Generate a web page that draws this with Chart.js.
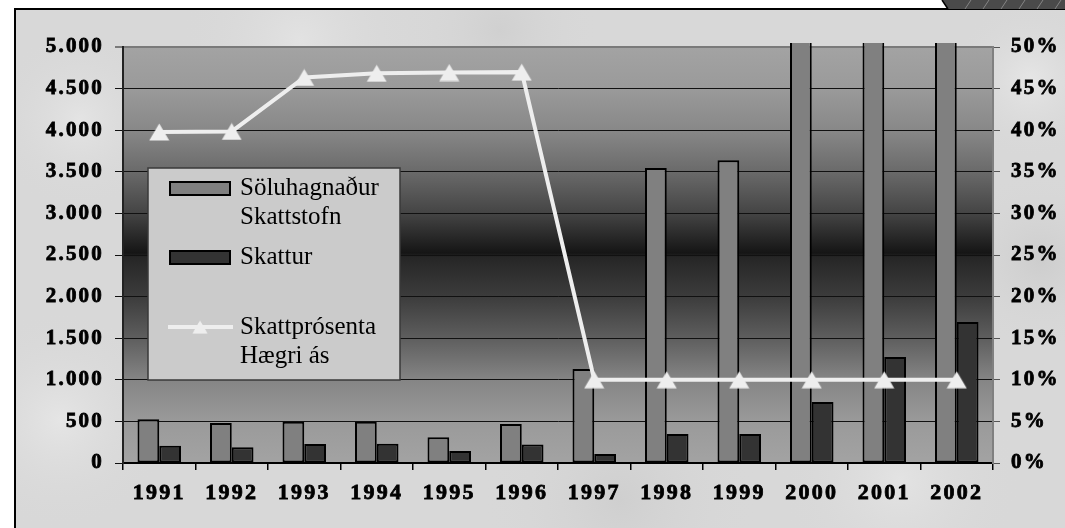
<!DOCTYPE html>
<html>
<head>
<meta charset="utf-8">
<script src="https://cdn.jsdelivr.net/npm/chart.js@4.4.1/dist/chart.umd.min.js"></script>
<style>
  html, body { margin: 0; padding: 0; background: #fff; }
  canvas { display: block; }
</style>
</head>
<body>
<canvas id="myChart" width="1065" height="528"></canvas>
<script>
const years = ['1991','1992','1993','1994','1995','1996','1997','1998','1999','2000','2001','2002'];
const skattstofn = [525, 480, 495, 495, 310, 470, 1130, 3545, 3640, 7330, 12740, 16950];
const skattur = [208, 188, 229, 232, 145, 221, 108, 349, 349, 733, 1274, 1695];
const skattprosenta = [39.79, 39.85, 46.34, 46.84, 46.93, 46.98, 10, 10, 10, 10, 10, 10];
const leftTicks = ['0','500','1.000','1.500','2.000','2.500','3.000','3.500','4.000','4.500','5.000'];
const rightTicks = ['0%','5%','10%','15%','20%','25%','30%','35%','40%','45%','50%'];
const legendLines = [['Söluhagnaður','Skattstofn'], ['Skattur'], ['Skattprósenta','Hægri ás']];

// triangle marker, centred like the original (a bit lower than chart.js' own)
const tri = document.createElement('canvas');
tri.width = 21; tri.height = 18;
(function () {
  const c = tri.getContext('2d');
  c.fillStyle = '#eeeeee';
  c.beginPath();
  c.moveTo(10.5, 0.5); c.lineTo(20.5, 17.5); c.lineTo(0.5, 17.5);
  c.closePath();
  c.fill();
})();

const backdrop = {
  id: 'backdrop',
  beforeDraw(chart) {
    const c = chart.ctx, a = chart.chartArea;
    c.save();
    c.fillStyle = '#fff';
    c.fillRect(0, 0, chart.width, chart.height);
    c.fillStyle = '#d8d8d8';
    c.fillRect(14, 9, chart.width - 14, chart.height - 9);
    // soft mottling of the marble
    const spots = [[80,120,90,'#e4e4e4'],[300,40,120,'#e2e2e2'],[620,500,140,'#cfcfcf'],[900,480,120,'#e3e3e3'],
                   [1040,260,90,'#cdcdcd'],[60,420,110,'#e5e5e5'],[500,30,100,'#d0d0d0'],[1030,80,80,'#e6e6e6']];
    spots.forEach(s => {
      const g = c.createRadialGradient(s[0], s[1], 0, s[0], s[1], s[2]);
      g.addColorStop(0, s[3]); g.addColorStop(1, 'rgba(216,216,216,0)');
      c.fillStyle = g;
      c.fillRect(14, 9, chart.width - 14, chart.height - 9);
    });
    // frame lines
    c.strokeStyle = '#000'; c.lineWidth = 2;
    c.beginPath();
    c.moveTo(15, 528); c.lineTo(15, 9); c.lineTo(1065, 9);
    c.stroke();
    // dark tab top right
    c.fillStyle = '#4a4a4a';
    c.beginPath();
    c.moveTo(942, 0); c.lineTo(1065, 0); c.lineTo(1065, 9); c.lineTo(948, 9);
    c.closePath(); c.fill();
    c.strokeStyle = '#000'; c.lineWidth = 1.5;
    c.beginPath(); c.moveTo(942, 0); c.lineTo(948, 9); c.stroke();
    c.strokeStyle = 'rgba(200,200,200,0.6)'; c.lineWidth = 0.8;
    for (let x = 965; x < 1070; x += 18) {
      c.beginPath(); c.moveTo(x, 9); c.lineTo(x + 6, 0); c.stroke();
    }
    // plot area gradient
    const g = c.createLinearGradient(0, a.top, 0, a.bottom);
    g.addColorStop(0, '#a3a3a3');
    g.addColorStop(0.1, '#9a9a9a');
    g.addColorStop(0.2, '#888888');
    g.addColorStop(0.3, '#6a6a6a');
    g.addColorStop(0.4, '#444444');
    g.addColorStop(0.495, '#151515');
    g.addColorStop(0.505, '#262626');
    g.addColorStop(0.6, '#3c3c3c');
    g.addColorStop(0.7, '#5e5e5e');
    g.addColorStop(0.8, '#858585');
    g.addColorStop(0.9, '#9a9a9a');
    g.addColorStop(1, '#a3a3a3');
    c.fillStyle = g;
    c.fillRect(a.left, a.top, a.right - a.left, a.bottom - a.top);
    c.restore();
    // the original axis numbers are set wide
    c.letterSpacing = '2.2px';
  }
};

const boxLegend = {
  id: 'boxLegend',
  afterDatasetsDraw(chart) {
    const c = chart.ctx;
    const ds = chart.data.datasets;
    c.save();
    c.letterSpacing = '0px';
    c.fillStyle = '#cbcbcb';
    c.fillRect(148, 168, 252, 212);
    c.strokeStyle = '#3a3a3a'; c.lineWidth = 1.5;
    c.strokeRect(148, 168, 252, 212);
    c.font = '25px "Liberation Serif", serif';
    c.fillStyle = '#000';
    c.textBaseline = 'middle';
    const rows = [188, 257, 327];
    ds.forEach((d, i) => {
      const y = rows[i];
      if (d.type === 'line') {
        c.strokeStyle = d.borderColor; c.lineWidth = 4;
        c.beginPath(); c.moveTo(168, y); c.lineTo(233, y); c.stroke();
        c.drawImage(tri, 200 - 8, y - 7, 16, 14);
      } else {
        c.fillStyle = d.backgroundColor;
        c.fillRect(170, y - 6, 60, 13);
        c.strokeStyle = '#000'; c.lineWidth = 2;
        c.strokeRect(170, y - 6, 60, 13);
      }
      c.fillStyle = '#000';
      legendLines[i].forEach((t, k) => c.fillText(t, 240, y + k * 29));
    });
    c.restore();
  }
};

const tickFont = { family: '"Liberation Serif", serif', weight: 'bold', size: 21 };

const ctx = document.getElementById('myChart').getContext('2d');
const chart = new Chart(ctx, {
  data: {
    labels: years,
    datasets: [
      {
        type: 'bar',
        label: legendLines[0].join(' '),
        data: skattstofn,
        backgroundColor: '#808080',
        borderColor: '#000',
        borderWidth: 2,
        borderSkipped: false,
        categoryPercentage: 0.6,
        barPercentage: 1.0,
        clip: { left: 0, top: 4, right: 0, bottom: 0 },
        yAxisID: 'y',
        order: 1
      },
      {
        type: 'bar',
        label: legendLines[1].join(' '),
        data: skattur,
        backgroundColor: '#333333',
        borderColor: '#000',
        borderWidth: 2,
        borderSkipped: false,
        categoryPercentage: 0.6,
        barPercentage: 1.0,
        yAxisID: 'y',
        order: 1
      },
      {
        type: 'line',
        label: legendLines[2].join(' '),
        data: skattprosenta,
        borderColor: '#eeeeee',
        borderWidth: 4,
        tension: 0,
        pointStyle: tri,
        yAxisID: 'y1',
        order: 0
      }
    ]
  },
  options: {
    responsive: false,
    devicePixelRatio: 1,
    animation: false,
    layout: { padding: { left: 0, right: 0, top: 47, bottom: 0 } },
    plugins: {
      legend: { display: false },
      tooltip: { enabled: false }
    },
    scales: {
      x: {
        grid: {
          offset: true,
          drawOnChartArea: false,
          tickLength: 7,
          color: '#000',
          lineWidth: 1.5
        },
        border: { color: '#000', width: 2 },
        ticks: {
          color: '#000', font: { ...tickFont, size: 22 }, padding: 10, maxRotation: 0,
          textStrokeColor: '#000', textStrokeWidth: 0.8
        },
        afterFit(s) { s.height = 65; }
      },
      y: {
        position: 'left',
        min: 0,
        max: 5000,
        ticks: {
          stepSize: 500,
          color: '#000',
          font: tickFont,
          padding: 11,
          textStrokeColor: '#000',
          textStrokeWidth: 0.8,
          callback: (v, i) => leftTicks[i]
        },
        grid: {
          color: c => (c.tick && c.tick.value === 5000) ? '#7a7a7a' : '#111',
          lineWidth: c => (c.tick && c.tick.value === 5000) ? 2 : 1,
          tickLength: 8
        },
        border: { color: '#222', width: 2 },
        afterFit(s) { s.width = 123; }
      },
      y1: {
        position: 'right',
        min: 0,
        max: 50,
        ticks: {
          stepSize: 5,
          color: '#000',
          font: tickFont,
          padding: 11,
          textStrokeColor: '#000',
          textStrokeWidth: 0.8,
          callback: (v, i) => rightTicks[i]
        },
        grid: { drawOnChartArea: false, tickLength: 7, color: '#555' },
        border: { color: '#808080', width: 2 },
        afterFit(s) { s.width = 72; }
      }
    }
  },
  plugins: [backdrop, boxLegend]
});
</script>
</body>
</html>
